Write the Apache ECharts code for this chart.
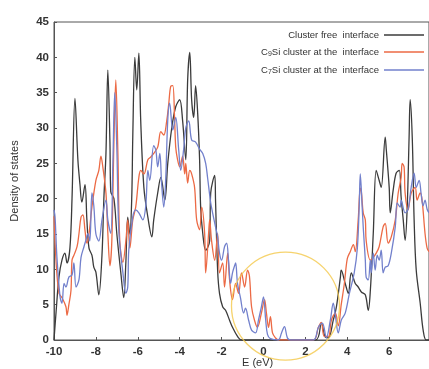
<!DOCTYPE html>
<html>
<head>
<meta charset="utf-8">
<script src="https://cdn.jsdelivr.net/npm/echarts@6/dist/echarts.min.js"></script>
<style>
  html, body { margin: 0; padding: 0; background: #fff; }
  #chart { width: 429px; height: 369px; }
</style>
</head>
<body>
<div id="chart"></div>
<script>
// Density of states vs energy for three interface models, [E (eV), DOS]
const cleanDos = [
  [-10.00,0],[-9.90,4],[-9.76,9],[-9.62,11.3],[-9.48,12.3],[-9.38,10.9],[-9.24,13],[-9.14,20],
  [-9.00,34.2],[-8.86,25.5],[-8.76,22],[-8.67,19.5],[-8.52,22],[-8.43,17],[-8.33,13],[-8.19,12],
  [-8.10,10.3],[-8.00,9.6],[-7.86,6.4],[-7.71,12],[-7.62,20],[-7.52,26.4],[-7.43,38.2],[-7.33,28],
  [-7.29,21],[-7.14,20],[-7.00,15],[-6.81,9.5],[-6.67,6],[-6.57,11],[-6.48,17.4],[-6.38,15],
  [-6.29,20],[-6.24,28.7],[-6.14,40],[-6.05,35.4],[-5.95,40.6],[-5.86,31],[-5.71,21.6],[-5.52,17.4],
  [-5.33,14.6],[-5.24,17],[-5.05,20.8],[-4.90,23],[-4.71,19.8],[-4.57,25],[-4.38,30],[-4.19,33],
  [-4.00,34],[-3.86,31],[-3.71,25.5],[-3.62,36.8],[-3.52,40.7],[-3.43,34],[-3.33,31.5],[-3.24,36],
  [-3.14,32],[-3.05,25.5],[-3.00,18.8],[-2.90,15.1],[-2.76,12.7],[-2.57,14],[-2.52,20.8],[-2.33,23.3],
  [-2.29,19.8],[-2.19,9.9],[-2.10,6.6],[-1.95,4.7],[-1.81,4.2],[-1.62,2.8],[-1.48,1.8],[-1.24,0.5],
  [-1.05,0],[2.48,0],[2.76,2.4],[2.95,0.4],[3.10,0.3],[3.33,2.8],[3.48,4.7],[3.67,8.9],[3.71,9.9],
  [3.90,8],[4.05,6.6],[4.19,9.5],[4.38,8],[4.52,7.5],[4.67,6.8],[4.86,6.4],[5.00,4.2],[5.10,7],
  [5.24,15.1],[5.38,24],[5.52,22.6],[5.62,21.6],[5.81,28.7],[5.86,27],[6.00,21.6],[6.05,18],
  [6.19,21.2],[6.33,23.6],[6.48,24],[6.57,20.2],[6.67,17],[6.76,14.1],[6.86,18.8],[6.95,28.7],
  [7.00,34],[7.10,28.7],[7.19,17],[7.29,9.9],[7.48,5.2],[7.62,1.4],[7.76,0],[7.90,0]
];

const c9siDos = [
  [-10.00,17.5],[-9.90,11],[-9.76,6.6],[-9.62,6],[-9.43,4.7],[-9.38,3.5],[-9.29,5],[-9.19,7],
  [-9.14,11.3],[-9.05,12],[-8.90,13.2],[-8.81,15],[-8.71,17.4],[-8.62,17.7],[-8.52,15.5],[-8.43,13.7],
  [-8.33,15],[-8.19,18.8],[-8.00,22.6],[-7.86,24],[-7.76,26],[-7.67,24.5],[-7.52,20.8],[-7.43,15.1],
  [-7.33,10.5],[-7.24,14],[-7.14,28],[-7.05,36.8],[-6.95,26.4],[-6.86,14],[-6.71,11],[-6.57,14],
  [-6.48,17],[-6.38,13],[-6.24,17],[-6.10,18.8],[-5.95,23],[-5.86,24],[-5.71,23.5],[-5.52,25.5],
  [-5.38,25.9],[-5.24,26.4],[-5.05,27.3],[-4.90,29.5],[-4.76,29],[-4.62,31],[-4.52,33.5],[-4.43,35.9],
  [-4.33,36],[-4.24,31],[-4.19,27.3],[-4.10,25.5],[-4.00,24.5],[-3.86,26],[-3.76,23.5],[-3.71,25],
  [-3.62,22.2],[-3.52,24],[-3.43,23.5],[-3.29,21.6],[-3.19,17],[-3.05,15.6],[-2.95,18.8],[-2.81,15.1],
  [-2.76,9.5],[-2.62,15.1],[-2.57,17],[-2.48,14.1],[-2.33,11.3],[-2.19,15.1],[-2.10,9.5],[-1.95,10.9],
  [-1.86,7.5],[-1.71,12.3],[-1.62,8.5],[-1.48,5.7],[-1.33,8],[-1.19,6.6],[-1.05,9.5],[-0.90,7.5],
  [-0.76,9.9],[-0.67,9],[-0.57,4.7],[-0.43,2.8],[-0.29,1.8],[-0.10,3.8],[0.05,5.7],[0.14,3.8],
  [0.24,1.8],[0.33,3.3],[0.43,1],[0.57,0.3],[0.71,0],[2.38,0],[2.62,1.8],[2.76,2.5],[2.90,0.5],
  [3.10,0.5],[3.24,2.8],[3.43,3.8],[3.57,2],[3.71,5],[3.86,8],[4.00,11.5],[4.14,12.5],[4.29,13.5],
  [4.38,12.5],[4.52,17],[4.62,21.5],[4.67,21],[4.76,18],[4.86,17],[4.90,14.1],[5.10,11.3],
  [5.24,11.7],[5.38,12.3],[5.52,13.2],[5.71,16],[5.81,16.5],[5.95,13.7],[6.10,14.6],[6.29,17],
  [6.43,20.8],[6.57,23],[6.62,25],[6.71,24.5],[6.76,20.8],[6.90,18.4],[7.05,20.8],[7.24,21.6],
  [7.33,19.8],[7.48,20.8],[7.57,19.8],[7.71,15.1],[7.81,13],[7.90,12.5]
];

const c7siDos = [
  [-10.00,18.4],[-9.95,17.4],[-9.86,11.7],[-9.71,6.1],[-9.62,5.2],[-9.52,8],[-9.43,7.5],[-9.29,8.9],
  [-9.14,9.2],[-9.05,10.9],[-8.95,7.5],[-8.81,8.5],[-8.71,11.7],[-8.57,13.2],[-8.48,14.1],[-8.38,15.1],
  [-8.29,14],[-8.19,20.8],[-8.10,19],[-8.00,15],[-7.86,14],[-7.71,17],[-7.52,19.8],[-7.43,17],
  [-7.29,15.1],[-7.19,25],[-7.10,35],[-7.00,27],[-6.90,15.1],[-6.71,9.5],[-6.57,6.6],[-6.48,7.5],
  [-6.43,12.7],[-6.24,17.4],[-6.10,18.4],[-5.95,18],[-5.76,17],[-5.62,19],[-5.52,24],[-5.43,22.6],
  [-5.24,27.5],[-5.14,26.9],[-5.05,24.5],[-4.95,26.4],[-4.86,22],[-4.76,18.8],[-4.67,22.6],[-4.57,31.1],
  [-4.48,33.5],[-4.33,29.7],[-4.19,31.5],[-4.05,27],[-3.95,24],[-3.81,27],[-3.71,30],[-3.57,31],
  [-3.43,28.3],[-3.24,28],[-3.05,27],[-2.90,26.4],[-2.76,25],[-2.67,23],[-2.52,19.4],[-2.43,18],
  [-2.29,16],[-2.19,14.6],[-2.10,12.3],[-2.00,11.3],[-1.86,13.2],[-1.76,13.7],[-1.67,11.3],[-1.57,8],
  [-1.48,9.5],[-1.38,10.5],[-1.33,10.9],[-1.24,8],[-1.10,6],[-0.95,3.8],[-0.86,4.5],[-0.71,2.8],
  [-0.57,1.4],[-0.38,1],[-0.24,2.8],[-0.10,4.7],[0.00,6.1],[0.10,3],[0.19,0.8],[0.33,0.2],[0.71,0],
  [0.86,1],[1.00,1.9],[1.14,0.3],[1.29,0],[2.38,0],[2.62,1.8],[2.81,2.4],[3.00,0.3],[3.19,2.8],
  [3.33,5.2],[3.43,3.5],[3.57,1],[3.71,2.8],[3.90,3.8],[4.10,6.6],[4.33,9.5],[4.48,13],[4.57,19],
  [4.62,23.5],[4.71,18.8],[4.76,16],[4.86,11.3],[4.90,8.9],[5.00,8.5],[5.10,11.3],[5.14,9.5],
  [5.24,12.3],[5.33,9.9],[5.43,12],[5.52,11.3],[5.62,12.7],[5.71,9.5],[5.81,10.3],[5.95,10.5],
  [6.10,12.3],[6.29,16],[6.38,19.4],[6.52,18.8],[6.57,19.8],[6.76,18],[6.90,18.5],[7.05,21.6],
  [7.19,23.6],[7.29,21.6],[7.43,22.6],[7.52,20.8],[7.62,19],[7.71,19.8],[7.81,18.5],[7.90,18]
];

// highlighted band-gap region around the Fermi level: [E, DOS] of the ring centre
const gapRing = [[1.05, 4.8]];

const seriesNames = [
  'Cluster free  interface',
  'C9Si cluster at the  interface',
  'C7Si cluster at the  interface'
];
// legend labels with the cluster sizes set as subscripts
const legendLabels = {
  'Cluster free  interface': '{n|Cluster free  interface}',
  'C9Si cluster at the  interface': '{n|C}{s|9}{n|Si cluster at the  interface}',
  'C7Si cluster at the  interface': '{n|C}{s|7}{n|Si cluster at the  interface}'
};
const seriesColors = ['#3b3b3b', '#ec6a45', '#7280cc'];

const xTicks = { min: -10, max: 7.9, interval: 2 };
const yTicks = { min: 0, max: 45, interval: 5 };

const chart = echarts.init(document.getElementById('chart'), null, { renderer: 'canvas' });

const fontFamily = 'Liberation Sans, Arial, sans-serif';
const axisFont = { fontFamily, fontSize: 11.5, color: '#333', fontWeight: 'bold' };

function lineSeries(name, data, color, z) {
  return {
    name, type: 'line', data, z,
    showSymbol: false, symbol: 'none', smooth: 0.35,
    lineStyle: { color, width: 1.3 },
    itemStyle: { color },
    emphasis: { disabled: true },
    animation: false
  };
}

chart.setOption({
  animation: false,
  backgroundColor: '#fff',
  grid: {
    left: 54, right: -2, top: 22, bottom: 29,
    show: true, borderColor: '#555', borderWidth: 1, backgroundColor: 'transparent'
  },
  xAxis: {
    type: 'value', min: xTicks.min, max: xTicks.max, interval: xTicks.interval,
    axisLine: { show: true, onZero: false, lineStyle: { color: '#555', width: 1 } },
    axisTick: { show: true, inside: true, length: 3, lineStyle: { color: '#555' } },
    axisLabel: Object.assign({ margin: 6, showMaxLabel: false }, axisFont),
    splitLine: { show: false }
  },
  yAxis: {
    type: 'value', min: yTicks.min, max: yTicks.max, interval: yTicks.interval,
    name: 'Density of states', nameLocation: 'middle', nameGap: 34,
    nameTextStyle: { fontFamily, fontSize: 11, color: '#333' },
    axisLine: { show: true, onZero: false, lineStyle: { color: '#555', width: 1 } },
    axisTick: { show: true, inside: true, length: 3, lineStyle: { color: '#555' } },
    axisLabel: Object.assign({ margin: 5 }, axisFont),
    splitLine: { show: false }
  },
  legend: {
    data: seriesNames,
    orient: 'vertical', right: 0, top: 25,
    align: 'right',
    icon: 'rect', itemWidth: 40, itemHeight: 1.5, itemGap: 7,
    formatter: name => legendLabels[name],
    textStyle: {
      fontFamily, fontSize: 9.5, color: '#333',
      rich: {
        n: { fontFamily, fontSize: 9.5, color: '#333' },
        s: { fontFamily, fontSize: 7, color: '#333', padding: [5, 0, 0, 0] }
      }
    }
  },
  graphic: [{
    type: 'text', left: 242, top: 357,
    style: { text: 'E (eV)', font: '11px Liberation Sans, Arial, sans-serif', fill: '#333' }
  }],
  series: [
    lineSeries(seriesNames[0], cleanDos, seriesColors[0], 2),
    lineSeries(seriesNames[1], c9siDos, seriesColors[1], 3),
    lineSeries(seriesNames[2], c7siDos, seriesColors[2], 4),
    {
      name: 'gap', type: 'scatter', data: gapRing, z: 5, clip: false, silent: true,
      symbol: 'circle', symbolSize: 108,
      itemStyle: { color: 'rgba(0,0,0,0)', borderColor: '#f4c84a', borderWidth: 1.3 },
      emphasis: { disabled: true }
    }
  ]
});
</script>
</body>
</html>
